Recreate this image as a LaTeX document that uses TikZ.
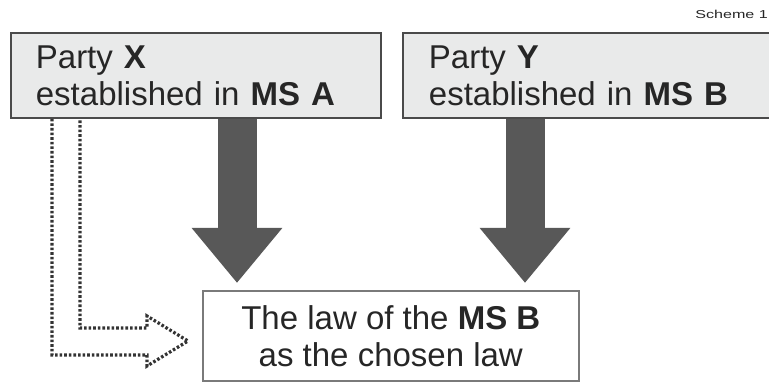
\documentclass[tikz,border=0pt]{standalone}
\usepackage{fontspec}
\setmainfont{Liberation Sans}
\usetikzlibrary{arrows.meta}
\definecolor{boxfill}{HTML}{E9EAEA}
\definecolor{boxline}{HTML}{4A4A4A}
\definecolor{arrowfill}{HTML}{585858}
\definecolor{lawline}{HTML}{7A7A7A}
\tikzset{
  topbox/.style={draw=boxline, line width=1.8pt, fill=boxfill, anchor=north west,
    minimum height=85pt, inner ysep=0pt, align=left, text=black!85,
    font=\fontsize{33}{37}\selectfont},
  lawbox/.style={draw=lawline, line width=1.6pt, fill=white, anchor=north west,
    minimum width=376pt, minimum height=90pt, align=center, text=black!85,
    font=\fontsize{33}{37}\selectfont},
  bigarrow/.style={draw=arrowfill, line width=39pt,
    -{Triangle[width=87pt,length=55pt]}, shorten >=7pt},
  dotarrow/.style={draw=black!80, line width=3.2pt, dash pattern=on 2.6pt off 2pt}
}
\begin{document}
\begin{tikzpicture}[x=1pt,y=-1pt]
\useasboundingbox (0,0) rectangle (769,390);
\node[topbox, text width=320pt, inner xsep=25pt] (x) at (10,32)
  {Party \textbf{X}\\established in \textbf{MS A}};
\node[topbox, text width=316pt, inner xsep=26pt] (y) at (402,32)
  {Party \textbf{Y}\\established in \textbf{MS B}};
\node[lawbox] (law) at (202,290)
  {The law of the \textbf{MS B}\\as the chosen law};
\node[anchor=north east, inner sep=0pt, text=black!85, font=\fontsize{11.5}{12}\selectfont]
  (sch) at (768,10) {\scalebox{1.4}[1]{Scheme 1}};
\draw[bigarrow] (x.south -| 237,0) -- (law.north -| 237,0);
\draw[bigarrow] (y.south -| 525,0) -- (law.north -| 525,0);
\coordinate (tip) at (188,341);
\draw[dotarrow] ([xshift=42pt]x.south west) -- (52,355) -- (147,355) -- (147,366)
  -- (tip) -- (147,316) -- (147,328) -- (80,328) -- ([xshift=70pt]x.south west);
\end{tikzpicture}
\end{document}
